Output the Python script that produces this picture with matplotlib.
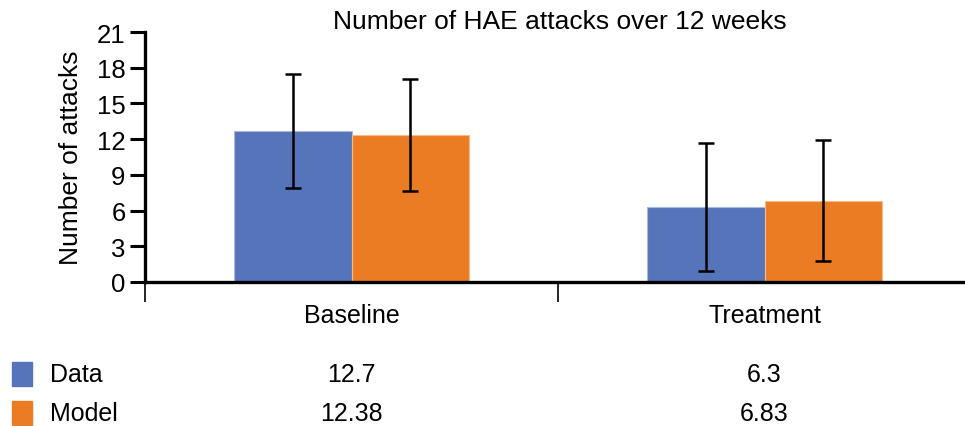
import matplotlib
matplotlib.use("Agg")
import matplotlib.pyplot as plt
from matplotlib.patches import Rectangle
import matplotlib.transforms as mtransforms
import numpy as np

plt.rcParams['font.family'] = ['Liberation Sans', 'DejaVu Sans']

categories = ["Baseline", "Treatment"]
series_names = ["Data", "Model"]
data_values = [12.7, 6.3]
model_values = [12.38, 6.83]
data_sd = [4.8, 5.4]
model_sd = [4.7, 5.1]
table_labels = {"Data": ["12.7", "6.3"], "Model": ["12.38", "6.83"]}
yticks = [0, 3, 6, 9, 12, 15, 18, 21]

blue = "#5574B9"
orange = "#EC7C24"

W, H = 965, 427
fig = plt.figure(figsize=(W / 100, H / 100), dpi=100)
ax = fig.add_axes([145 / W, 144 / H, 1 - 145 / W, 250 / H])

x = np.arange(len(categories))
bw = 0.285
off = 0.1425
ax.bar(x - off, data_values, bw, color=blue, edgecolor="#A9B9E0", linewidth=0.8, zorder=2)
ax.bar(x + off, model_values, bw, color=orange, edgecolor="#F5B98A", linewidth=0.8, zorder=2)
ax.errorbar(x - off, data_values, yerr=data_sd, fmt="none", ecolor="black",
            elinewidth=1.8, capsize=5.5, capthick=1.8, zorder=3)
ax.errorbar(x + off, model_values, yerr=model_sd, fmt="none", ecolor="black",
            elinewidth=1.8, capsize=5.5, capthick=1.8, zorder=3)

ax.set_xlim(-0.5, -0.5 + 820 / 413)
ax.set_ylim(0, 21)
ax.set_yticks(yticks)
ax.tick_params(axis="y", labelsize=18.5, length=11, width=2.2, direction="out", pad=3)

# category separators below the axis, labels centered under groups
ax.set_xticks([-0.5, 0.5])
ax.set_xticklabels([])
ax.tick_params(axis="x", which="major", length=14.5, width=1.2, direction="out")
ax.set_xticks(x, minor=True)
ax.set_xticklabels(categories, minor=True)
ax.tick_params(axis="x", which="minor", length=0, labelsize=18, pad=15)

for s in ["top", "right"]:
    ax.spines[s].set_visible(False)
ax.spines["left"].set_linewidth(2.4)
ax.spines["bottom"].set_linewidth(2.4)

ax.set_ylabel("Number of attacks", fontsize=19, labelpad=10)
fig.text(560 / W, 1 - 22 / H, "Number of HAE attacks over 12 weeks",
         fontsize=19, ha="center", va="center")

# value table with colour keys
trans = mtransforms.blended_transform_factory(ax.transData, fig.transFigure)
rows = [("Data", blue, 375), ("Model", orange, 414)]
for name, col, ypx in rows:
    fig.patches.append(Rectangle((12 / W, 1 - (ypx + 12) / H), 20 / W, 24 / H,
                                 transform=fig.transFigure, color=col))
    fig.text(50 / W, 1 - ypx / H, name, fontsize=18, ha="left", va="center")
    for i, lab in enumerate(table_labels[name]):
        fig.text(x[i], 1 - ypx / H, lab, transform=trans, fontsize=18,
                 ha="center", va="center")

fig.savefig("out.png", dpi=100)
